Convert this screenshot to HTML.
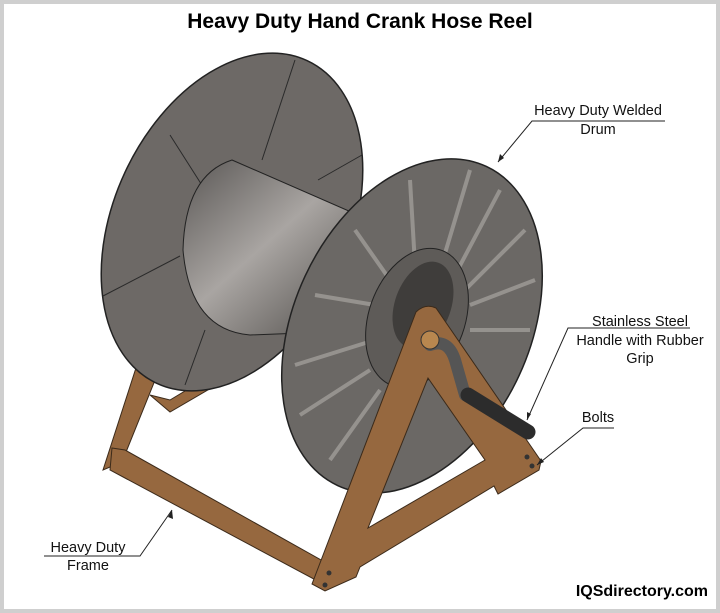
<!DOCTYPE html>
<html><head><style>
body{margin:0;width:720px;height:613px;overflow:hidden;background:#fff}
.f{position:absolute;inset:0;border:4px solid #cfcfcf;box-sizing:border-box}
</style></head><body>
<div class="f"></div>
<svg width="720" height="613" style="position:absolute;left:0;top:0" font-family="Liberation Sans, sans-serif">
<defs>
<linearGradient id="dr" x1="0" y1="0" x2="1" y2="1">
<stop offset="0" stop-color="#5a5755"/><stop offset="0.45" stop-color="#a9a5a2"/><stop offset="1" stop-color="#45423f"/></linearGradient>
</defs>
<text x="360" y="28" text-anchor="middle" font-size="21" font-weight="bold">Heavy Duty Hand Crank Hose Reel</text>
<!-- back frame -->
<g fill="#96683f" stroke="#3b2a1a" stroke-width="1">
<polygon points="145,340 168,348 122,462 103,470"/>
<polygon points="112,448 125,450 330,565 325,585 110,470"/>
<polygon points="150,395 170,400 270,340 285,345 170,412"/>
</g>
<!-- back flange -->
<ellipse cx="232" cy="222" rx="118" ry="178" transform="rotate(25 232 222)" fill="#6d6966" stroke="#222" stroke-width="1.5"/>
<g stroke="#2a2a2a" stroke-width="1"><line x1="295" y1="60" x2="262" y2="160"/><line x1="170" y1="135" x2="205" y2="190"/><line x1="103" y1="296" x2="180" y2="256"/><line x1="185" y1="385" x2="205" y2="330"/><line x1="362" y1="155" x2="318" y2="180"/></g>
<!-- drum -->
<path d="M232,160 L358,215 L380,330 L250,335 Q190,330 183,250 Q185,175 232,160Z" fill="url(#dr)" stroke="#222"/>
<!-- front flange -->
<ellipse cx="412" cy="326" rx="118" ry="176" transform="rotate(25 412 326)" fill="#6b6865" stroke="#222" stroke-width="1.5"/>
<g stroke="#a8a4a0" stroke-width="4" opacity="0.7">
<line x1="470" y1="170" x2="440" y2="270"/><line x1="500" y1="190" x2="455" y2="275"/><line x1="525" y1="230" x2="465" y2="290"/><line x1="535" y1="280" x2="470" y2="305"/>
<line x1="530" y1="330" x2="470" y2="330"/><line x1="315" y1="295" x2="375" y2="305"/><line x1="295" y1="365" x2="375" y2="340"/><line x1="300" y1="415" x2="370" y2="370"/><line x1="330" y1="460" x2="380" y2="390"/><line x1="410" y1="180" x2="415" y2="265"/><line x1="355" y1="230" x2="390" y2="280"/></g>
<ellipse cx="417" cy="318" rx="48" ry="72" transform="rotate(20 417 318)" fill="#5e5b58" stroke="#222"/>
<ellipse cx="423" cy="305" rx="28" ry="45" transform="rotate(20 423 305)" fill="#3f3d3b"/>
<!-- front frame -->
<path fill-rule="evenodd" fill="#96683f" stroke="#3b2a1a" stroke-width="1" d="M416,312 Q425,303 436,308 L541,461 L539,470 L498,494 L494,486 L360,567 L356,577 L325,591 L312,584 Z M428,378 L368,528 L485,460 Z"/>
<!-- handle -->
<path d="M430,345 Q448,338 455,360 L465,395" stroke="#555" stroke-width="12" fill="none" stroke-linecap="round"/>
<line x1="468" y1="395" x2="528" y2="432" stroke="#2c2c2c" stroke-width="15" stroke-linecap="round"/>
<circle cx="430" cy="340" r="9" fill="#b8874f" stroke="#333"/>
<g fill="#333"><circle cx="527" cy="457" r="2.5"/><circle cx="532" cy="466" r="2.5"/><circle cx="329" cy="573" r="2.5"/><circle cx="325" cy="585" r="2.5"/></g>
<!-- labels -->
<g font-size="14.5" fill="#111" text-anchor="middle">
<text x="598" y="115">Heavy Duty Welded</text><text x="598" y="134">Drum</text>
<text x="640" y="326">Stainless Steel</text><text x="640" y="345">Handle with Rubber</text><text x="640" y="363">Grip</text>
<text x="598" y="422">Bolts</text>
<text x="88" y="552">Heavy Duty</text><text x="88" y="570">Frame</text>
</g>
<g stroke="#222" stroke-width="1" fill="none">
<polyline points="665,121 532,121 498,162"/>
<polyline points="690,328 568,328 527,420"/>
<polyline points="614,428 583,428 537,465"/>
<polyline points="44,556 140,556 172,510"/>
</g>
<g fill="#222"><polygon points="498,162 500,154 504,158"/><polygon points="527,420 527,412 531,414"/><polygon points="537,465 541,458 544,462"/><polygon points="172,510 168,517 173,519"/></g>
<text x="708" y="596" text-anchor="end" font-size="16" font-weight="bold">IQSdirectory.com</text>
</svg>
</body></html>
